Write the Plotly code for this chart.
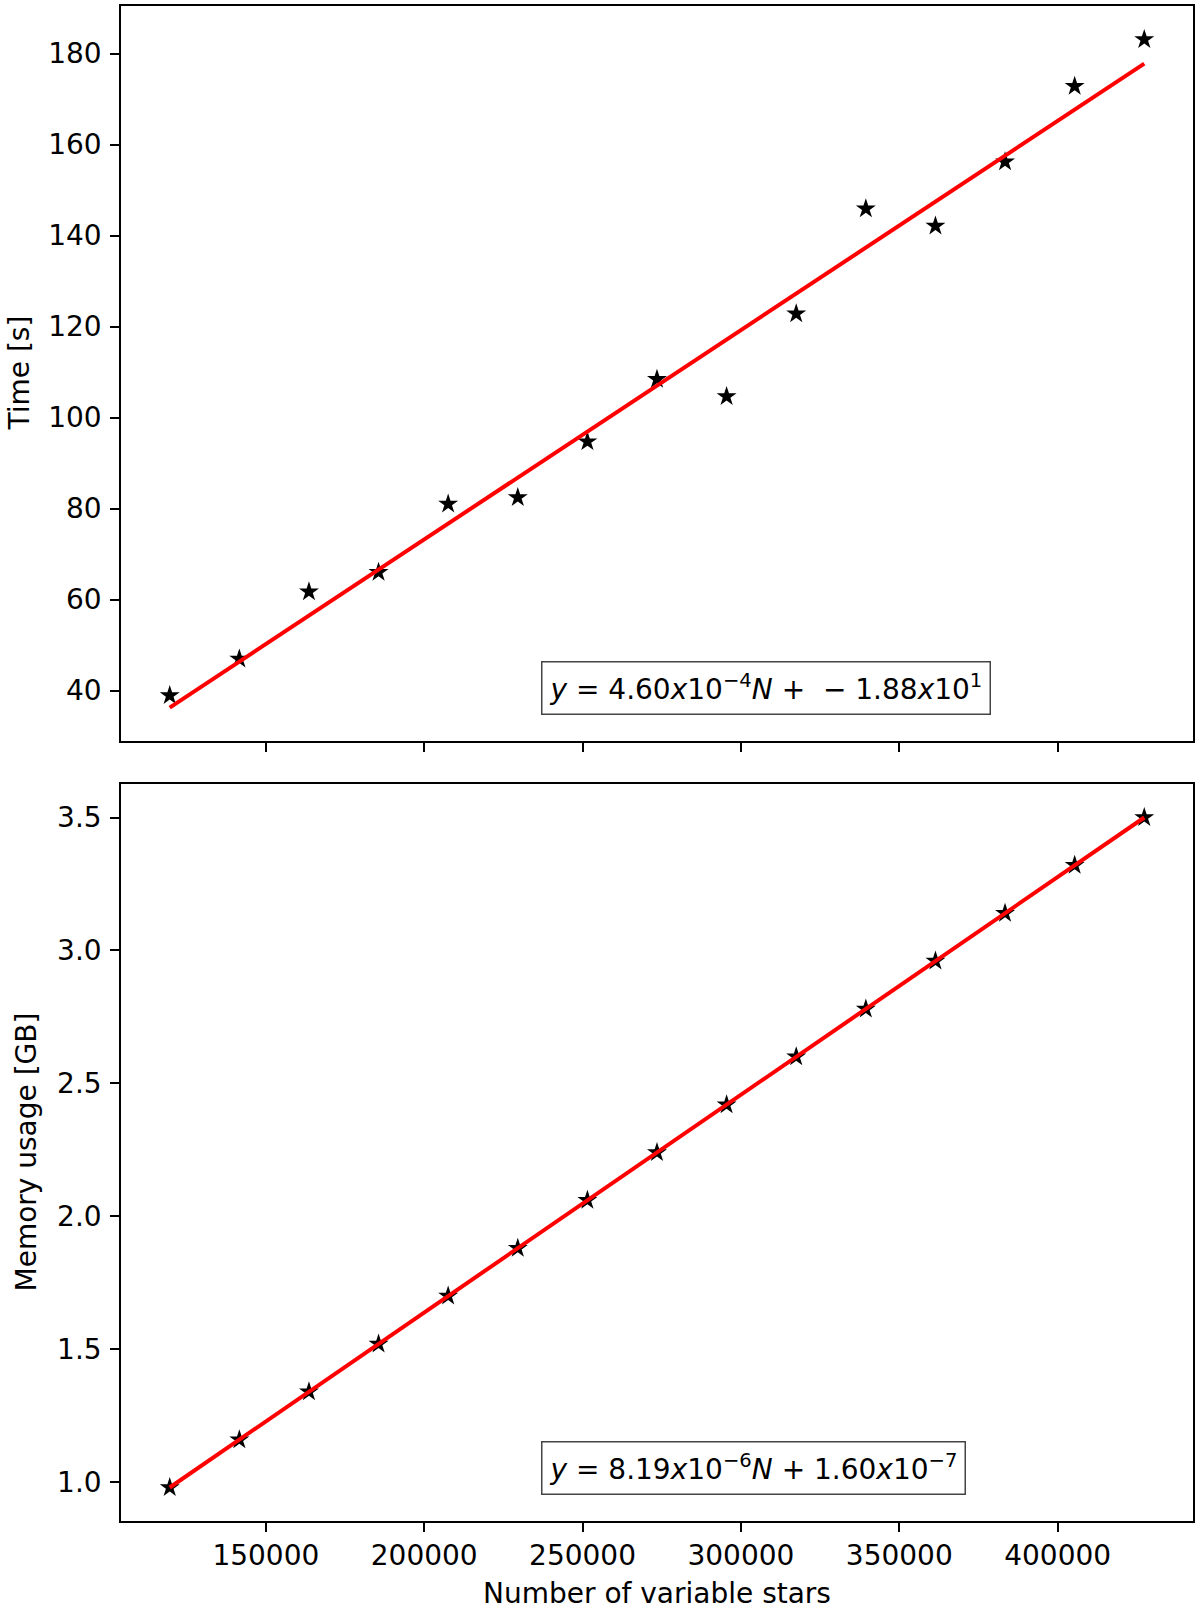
import plotly.graph_objects as go
from plotly.subplots import make_subplots

# Number of variable stars
n_stars = [119660, 141640, 163620, 185590, 207570, 229550, 251530, 273500,
           295480, 317460, 339440, 361420, 383390, 405370, 427350]

# Time [s]
time_s = [38.9, 46.9, 61.7, 66.0, 81.0, 82.4, 94.7, 108.4,
          104.6, 122.8, 145.9, 142.1, 156.2, 172.8, 183.1]

# Memory usage [GB]
mem_gb = [0.98, 1.16, 1.34, 1.52, 1.70, 1.88, 2.06, 2.24,
          2.42, 2.60, 2.78, 2.96, 3.14, 3.32, 3.50]

# fit coefficients shown in the boxes
time_fit = (4.60e-4, -18.8)
mem_fit = (8.19e-6, 1.60e-7)

time_label = "<i>y</i> = 4.60<i>x</i>10<sup>−4</sup><i>N</i> +  − 1.88<i>x</i>10<sup>1</sup>"
mem_label = "<i>y</i> = 8.19<i>x</i>10<sup>−6</sup><i>N</i> + 1.60<i>x</i>10<sup>−7</sup>"

FONT = "DejaVu Sans"
TXT = dict(family=FONT, size=28, color="black")

W, H = 1200, 1610
L, R, T, B = 121, 7, 6, 89
PH = H - T - B
PW = W - L - R


def px_y(p):
    # pixel row -> paper y
    return (H - B - p) / PH


def px_x(p):
    return (p - L) / PW


fig = make_subplots(rows=2, cols=1, shared_xaxes=True)

x_ends = [min(n_stars), max(n_stars)]
for row, ys, (a, b) in [(1, time_s, time_fit), (2, mem_gb, mem_fit)]:
    fig.add_trace(go.Scatter(
        x=n_stars, y=ys, mode="markers",
        marker=dict(symbol="star", size=15, color="black"),
        showlegend=False), row=row, col=1)
    fig.add_trace(go.Scatter(
        x=x_ends, y=[a * x + b for x in x_ends], mode="lines",
        line=dict(color="red", width=4),
        showlegend=False), row=row, col=1)

# matplotlib-like 5% margins
span = max(n_stars) - min(n_stars)
xr = [min(n_stars) - 0.05 * span, max(n_stars) + 0.05 * span]

t_lo = min(time_s + [time_fit[0] * x_ends[0] + time_fit[1]])
t_hi = max(time_s)
m_lo, m_hi = min(mem_gb), max(mem_gb)

axis_style = dict(
    showline=True, mirror=True, linecolor="black", linewidth=1.6,
    ticks="outside", ticklen=9, tickwidth=1.6, tickcolor="black",
    showgrid=False, zeroline=False, automargin=False,
    tickfont=TXT,
)

fig.update_xaxes(**axis_style, range=xr, tickformat="d", ticklabelstandoff=0,
                 tickvals=[150000, 200000, 250000, 300000, 350000, 400000])
fig.update_xaxes(showticklabels=False, row=1, col=1)

fig.update_yaxes(**axis_style, ticklabelstandoff=3)
fig.update_yaxes(range=[t_lo - 0.05 * (t_hi - t_lo), t_hi + 0.05 * (t_hi - t_lo)],
                 tickvals=[40, 60, 80, 100, 120, 140, 160, 180],
                 row=1, col=1)
fig.update_yaxes(range=[m_lo - 0.05 * (m_hi - m_lo), m_hi + 0.05 * (m_hi - m_lo)],
                 tickvals=[1.0, 1.5, 2.0, 2.5, 3.0, 3.5], tickformat=".1f",
                 row=2, col=1)

top_dom = [px_y(741), 1.0]
bot_dom = [0.0, px_y(784)]

fig.update_layout(
    width=W, height=H,
    margin=dict(l=L, r=R, t=T, b=B),
    plot_bgcolor="white", paper_bgcolor="white",
    font=dict(family=FONT, color="black"),
    yaxis=dict(domain=top_dom),
    yaxis2=dict(domain=bot_dom),
)

# axis titles
fig.add_annotation(text="Time [s]", xref="paper", yref="paper",
                   x=px_x(19), y=sum(top_dom) / 2, textangle=-90,
                   xanchor="center", yanchor="middle", showarrow=False, font=TXT)
fig.add_annotation(text="Memory usage [GB]", xref="paper", yref="paper",
                   x=px_x(26), y=sum(bot_dom) / 2, textangle=-90,
                   xanchor="center", yanchor="middle", showarrow=False, font=TXT)
fig.add_annotation(text="Number of variable stars", xref="paper", yref="paper",
                   x=0.5, y=px_y(1594), xanchor="center", yanchor="middle",
                   showarrow=False, font=TXT)

# fit boxes
for xref, yref, label in [("x domain", "y domain", time_label),
                          ("x2 domain", "y2 domain", mem_label)]:
    fig.add_annotation(
        text=label, xref=xref, yref=yref,
        x=0.392, y=0.035, xanchor="left", yanchor="bottom", showarrow=False,
        font=TXT, bordercolor="#444444", borderwidth=1.5, borderpad=7,
        bgcolor="white")

# drop the browser's default body margin so the figure sits at the page corner
fig.write_html("out.html", config={"displayModeBar": False},
               post_script="document.body.style.margin='0';")
